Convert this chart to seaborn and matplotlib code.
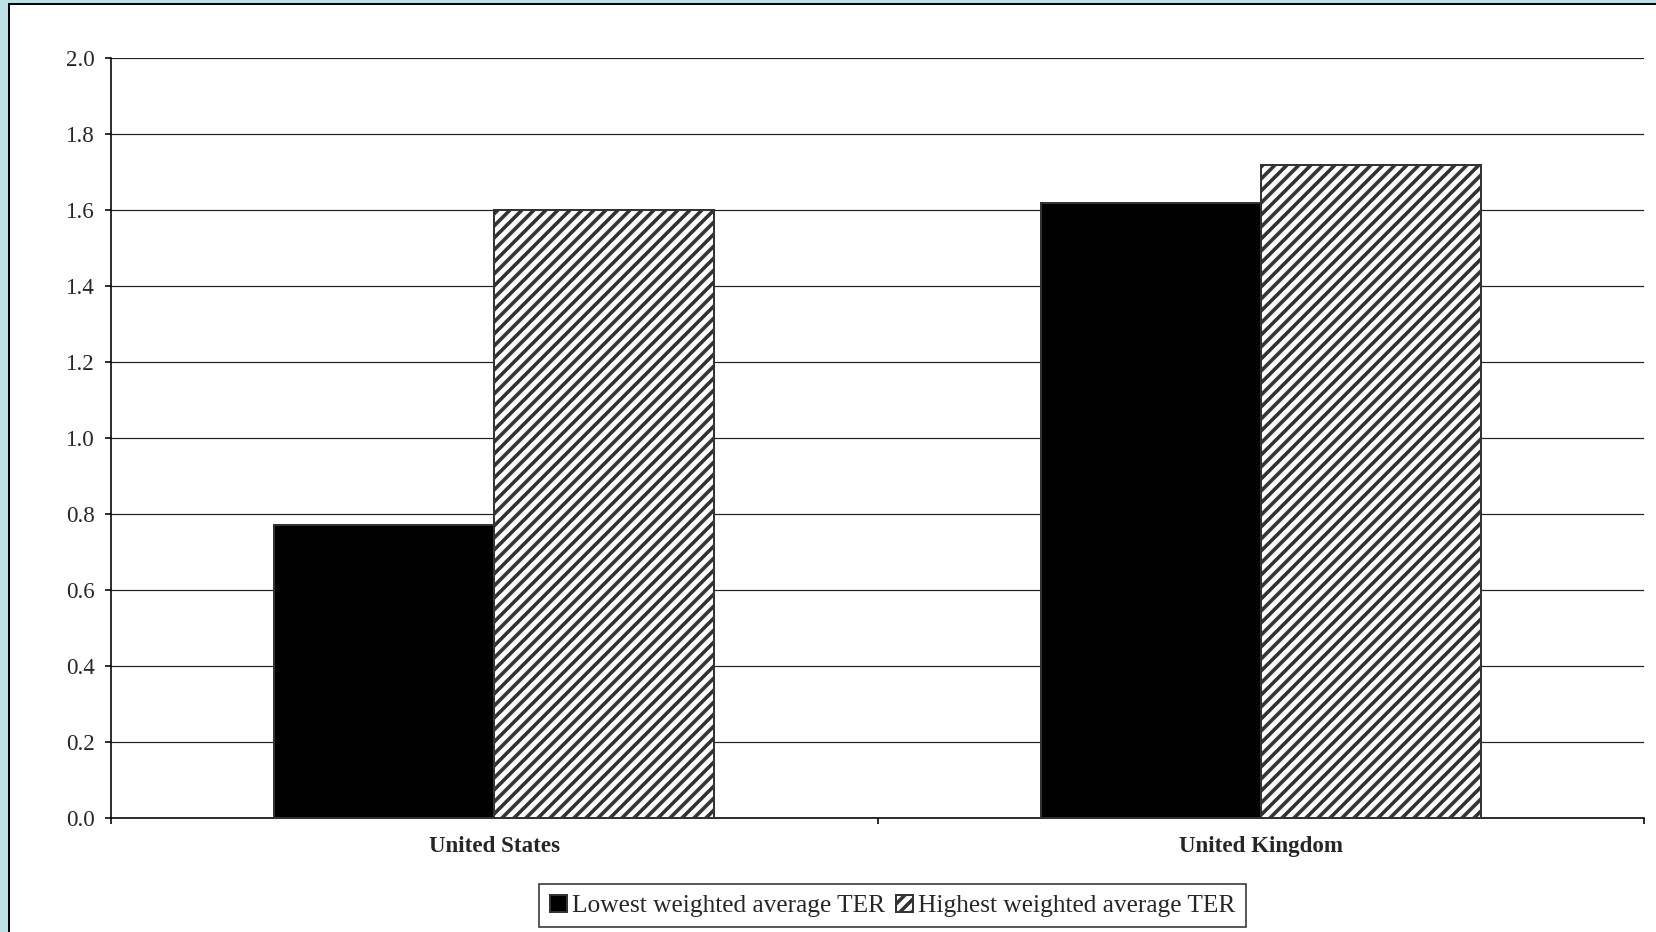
import matplotlib
matplotlib.use('Agg')
import matplotlib.pyplot as plt
from matplotlib.patches import Rectangle
from matplotlib.ticker import FormatStrFormatter
import seaborn as sns
import pandas as pd

countries = ['United States', 'United Kingdom']
series_names = ['Lowest weighted average TER', 'Highest weighted average TER']
lowest = [0.77, 1.62]
highest = [1.60, 1.72]
yticks = [0.0, 0.2, 0.4, 0.6, 0.8, 1.0, 1.2, 1.4, 1.6, 1.8, 2.0]

df = pd.DataFrame({
    'country': countries * 2,
    'series': [series_names[0]] * 2 + [series_names[1]] * 2,
    'value': lowest + highest,
})

sns.set_style('white')
plt.rcParams['font.family'] = ['Liberation Serif', 'DejaVu Serif']
plt.rcParams['hatch.linewidth'] = 1.8
plt.rcParams['hatch.color'] = 'black'

fig = plt.figure(figsize=(1656 / 144, 932 / 144), dpi=144)
fig.patch.set_facecolor('#bfe1e5')
# white panel with black border
fig.patches.append(Rectangle((0.0057, -0.02), 1.1, 0.0155 + 1.0, transform=fig.transFigure,
                             facecolor='white', edgecolor='black', lw=1.0, zorder=-10))

ax = fig.add_axes([0.067, 0.1224, 0.926, 0.8152])
ax.patch.set_alpha(0)
sns.barplot(data=df, x='country', y='value', hue='series', palette=['black', 'white'],
            width=0.574, gap=0, edgecolor='#333333', linewidth=1.0, ax=ax, zorder=3)

# hatch the second series
for bar in ax.containers[1]:
    bar.set_hatch('////')
    if hasattr(bar, 'set_hatch_linewidth'):
        bar.set_hatch_linewidth(1.8)

ax.set_xlim(-0.5, 1.5)
ax.set_ylim(0, 2.0)
ax.set_yticks(yticks)
ax.yaxis.set_major_formatter(FormatStrFormatter('%.1f'))
ax.yaxis.grid(True, color='#222222', lw=0.6, zorder=0)
ax.set_axisbelow(True)

for s in ['top', 'right']:
    ax.spines[s].set_visible(False)
for s in ['left', 'bottom']:
    ax.spines[s].set_color('black')
    ax.spines[s].set_linewidth(0.8)

ax.tick_params(axis='y', left=True, length=3, width=0.8, color='black', labelsize=11.5, pad=5)
ax.set_xticks([0, 1])
ax.set_xticklabels(countries, fontweight='bold', fontsize=11.5)
ax.tick_params(axis='x', which='major', length=0, pad=9)
ax.set_xticks([-0.5, 0.5, 1.5], minor=True)
ax.tick_params(axis='x', which='minor', bottom=True, length=3, width=0.8, color='black')
ax.set_xlabel('')
ax.set_ylabel('')

handles, labels = ax.get_legend_handles_labels()
ax.get_legend().remove()
handles[1].set_hatch('////')
leg = fig.legend(handles, labels, loc='center', bbox_to_anchor=(0.539, 0.028), ncol=2,
                 frameon=True, fancybox=False, edgecolor='black', fontsize=12.7,
                 handlelength=0.7, handleheight=0.7, handletextpad=0.2, columnspacing=0.4,
                 borderpad=0.4)
leg.get_frame().set_linewidth(0.8)

fig.savefig('out.png', dpi=144, facecolor=fig.get_facecolor())
